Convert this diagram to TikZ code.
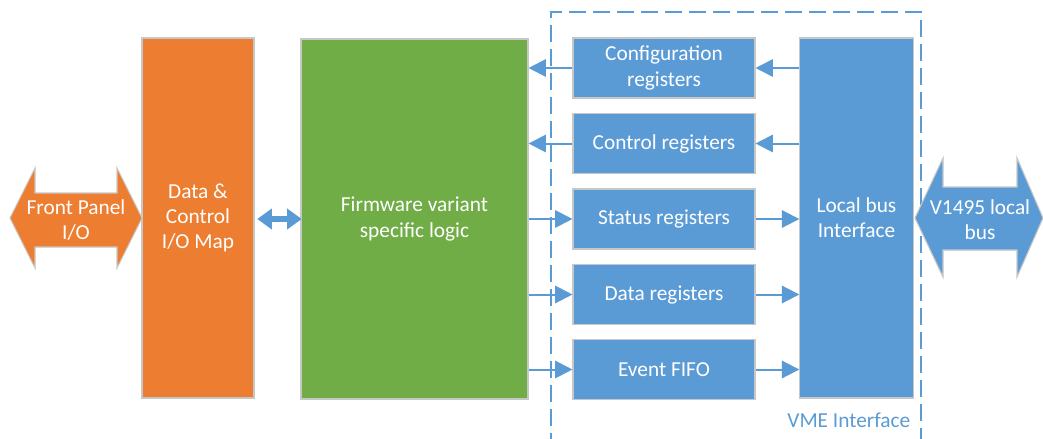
\documentclass[tikz,border=0pt]{standalone}
\usepackage{fontspec}
\setmainfont{Carlito}
\usetikzlibrary{arrows.meta}

\definecolor{orangeC}{HTML}{ED7D31}
\definecolor{greenC}{HTML}{70AD47}
\definecolor{blueC}{HTML}{5B9BD5}

\tikzset{
  blk/.style={draw=black!22, line width=0.8pt, text=white, align=center, inner sep=0pt},
  reg/.style={blk, fill=blueC, minimum width=136.5pt, minimum height=45pt},
  conn/.style={blueC, line width=1.5pt, -{Triangle[length=13pt, width=13pt]}},
  bigarrow/.style={draw=black!22, line width=0.8pt},
}

\begin{document}
\begin{tikzpicture}[x=0.75pt, y=-0.75pt, font=\fontsize{16}{19}\selectfont]
    \useasboundingbox (0,0) rectangle (1043,439);

    % VME interface frame
    \draw[blueC, line width=1.2pt, dash pattern=on 13pt off 5pt] (551,450) -- (551,12) -- (921,12) -- (921,450);
    \node[text=blueC, anchor=east] (vme) at (915,420) {VME Interface};

    % main blocks
    \node[blk, fill=orangeC, minimum width=84pt, minimum height=270pt] (iomap) at (198,218) {Data \&\\Control\\I/O Map};
    \node[blk, fill=greenC, minimum width=170.25pt, minimum height=270pt] (fw) at (414.5,219) {Firmware variant\\specific logic};
    \node[blk, fill=blueC, minimum width=85pt, minimum height=270pt] (lbus) at (856.5,218) {Local bus\\Interface};

    % register blocks
    \foreach \n/\y/\t in {cfg/68/{Configuration\\registers}, ctrl/143.5/{Control registers}, stat/219/{Status registers}, data/294.5/{Data registers}, fifo/369.5/{Event FIFO}}
        \node[reg] (\n) at (664,\y) {\t};

    % front panel and local bus arrows
    \fill[orangeC, bigarrow] (10,218) -- (35,168) -- (35,193) -- (117,193) -- (117,168) -- (142,218) -- (117,268) -- (117,247) -- (35,247) -- (35,268) -- cycle;
    \node[text=white, align=center] (fp) at (76,220) {Front Panel\\I/O};
    \fill[blueC, bigarrow] (915,218) -- (943,158) -- (943,187) -- (1017,187) -- (1017,158) -- (1043,218) -- (1017,277) -- (1017,250) -- (943,250) -- (943,277) -- cycle;
    \node[text=white, align=center] (vbus) at (980,220) {V1495 local\\bus};

    % connectors
    \draw[blueC, line width=4.5pt, {Triangle[length=11pt, width=15pt]}-{Triangle[length=11pt, width=15pt]}, shorten <=2pt, shorten >=-1pt] (iomap.east |- fw) -- (fw.west);
    \foreach \n in {cfg,ctrl} {
        \draw[conn] (lbus.west |- \n) -- (\n.east);
        \draw[conn] (\n.west) -- (fw.east |- \n);
    }
    \foreach \n in {stat,data,fifo} {
        \draw[conn] (fw.east |- \n) -- (\n.west);
        \draw[conn] (\n.east) -- (lbus.west |- \n);
    }
\end{tikzpicture}
\end{document}
